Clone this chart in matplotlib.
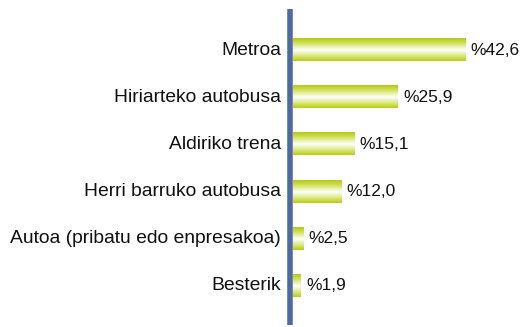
import numpy as np
import matplotlib
matplotlib.use("Agg")
import matplotlib.pyplot as plt
from matplotlib.colors import LinearSegmentedColormap

categories = ["Metroa", "Hiriarteko autobusa", "Aldiriko trena",
              "Herri barruko autobusa", "Autoa (pribatu edo enpresakoa)", "Besterik"]
values = [42.6, 25.9, 15.1, 12.0, 2.5, 1.9]
value_labels = ["%42,6", "%25,9", "%15,1", "%12,0", "%2,5", "%1,9"]

W, H = 521, 327
fig = plt.figure(figsize=(W / 100, H / 100), dpi=100)
plt.rcParams['font.family'] = ['Liberation Sans', 'DejaVu Sans']

# axes placed in pixel terms
ax_left, ax_top, ax_bottom = 287, 9, 325
ax = fig.add_axes([ax_left / W, (H - ax_bottom) / H, (W - ax_left) / W, (ax_bottom - ax_top) / H])
px_per_unit = 4.04
x0 = 6 / px_per_unit
ax.set_xlim(-x0, -x0 + (W - ax_left) / px_per_unit)
ax.set_ylim(5.83, -0.87)
ax.axis('off')

cmap = LinearSegmentedColormap.from_list(
    "bar", [(0.0, "#b4ca10"), (0.22, "#d2e25c"), (0.52, "#ffffff"), (0.8, "#d8e670"), (1.0, "#b8cc18")])
grad = np.linspace(0, 1, 64).reshape(-1, 1)
bh = 0.47
for i, v in enumerate(values):
    ax.imshow(grad, cmap=cmap, aspect='auto', extent=(0, v, i + bh / 2, i - bh / 2),
              interpolation='bilinear', zorder=2)
    ax.text(v + 1.3, i, value_labels[i], va='center', ha='left', fontsize=12.5, color='#111111')
    ax.text(-x0 - 6 / px_per_unit, i, categories[i], va='center', ha='right', fontsize=13.9,
            color='#111111', clip_on=False)

ax.axvline(-0.74, color='#4f6aa0', lw=4, zorder=3)
ax.set_ylim(5.83, -0.87)

fig.savefig("out.png", dpi=100)
